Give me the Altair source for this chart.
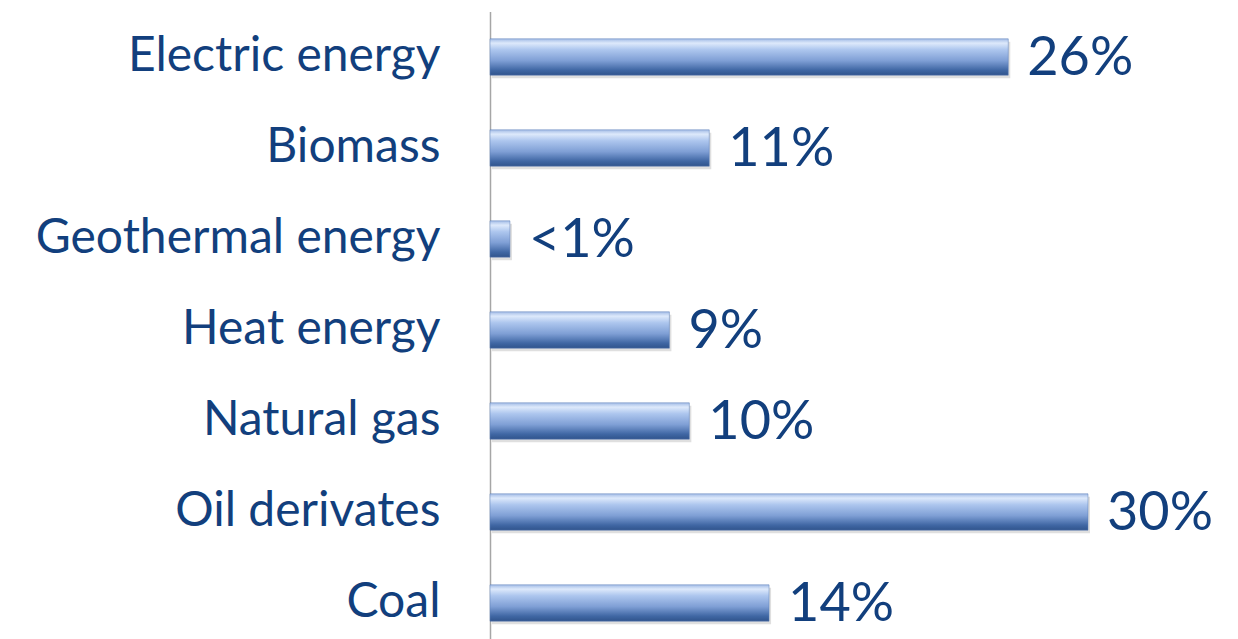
import altair as alt
import pandas as pd

categories = ["Electric energy", "Biomass", "Geothermal energy", "Heat energy",
              "Natural gas", "Oil derivates", "Coal"]
values = [26, 11, 1, 9, 10, 30, 14]
labels = ["26%", "11%", "<1%", "9%", "10%", "30%", "14%"]

df = pd.DataFrame({"category": categories, "value": values, "label": labels})

FONT = "Lato"
TEXT_COLOR = "#123f7d"

y_enc = alt.Y("category:N", sort=categories,
              scale=alt.Scale(paddingInner=0.6, paddingOuter=0.3),
              axis=alt.Axis(title=None, ticks=False, domain=True, domainColor="#a6a6a6",
                            domainWidth=1.5, labelFont=FONT, labelFontSize=48,
                            labelColor=TEXT_COLOR, labelPadding=50, labelLimit=600))
x_enc = alt.X("value:Q", scale=alt.Scale(domain=[0, 30], nice=False), axis=None)

grad = alt.Gradient(
    gradient="linear", x1=0, x2=0, y1=0, y2=1,
    stops=[
        alt.GradientStop(offset=0.0, color="#a3bce6"),
        alt.GradientStop(offset=0.12, color="#dde9fb"),
        alt.GradientStop(offset=0.3, color="#adc6ee"),
        alt.GradientStop(offset=0.6, color="#7f9fd5"),
        alt.GradientStop(offset=0.86, color="#4067a4"),
        alt.GradientStop(offset=1.0, color="#30548c"),
    ],
)

shadow = alt.Chart(df).mark_bar(color="#7f7f7f", opacity=0.25, yOffset=3, xOffset=2).encode(
    y=y_enc, x=x_enc)
bars = alt.Chart(df).mark_bar(color=grad, stroke="#5a7db5", strokeWidth=0.5).encode(
    y=y_enc, x=x_enc)
text = alt.Chart(df).mark_text(align="left", baseline="middle", dx=19, dy=2,
                               font=FONT, fontSize=54, color=TEXT_COLOR).encode(
    y=y_enc, x=x_enc, text="label:N")

chart = (shadow + bars + text).properties(
    width=598, height=637,
    background="white",
    autosize=alt.AutoSizeParams(type="none"),
    padding={"left": 482, "top": 3.5, "right": 130, "bottom": 0},
).configure_view(strokeWidth=0, stroke=None)

chart.save("out.html", embed_options={"renderer": "svg", "actions": False})
